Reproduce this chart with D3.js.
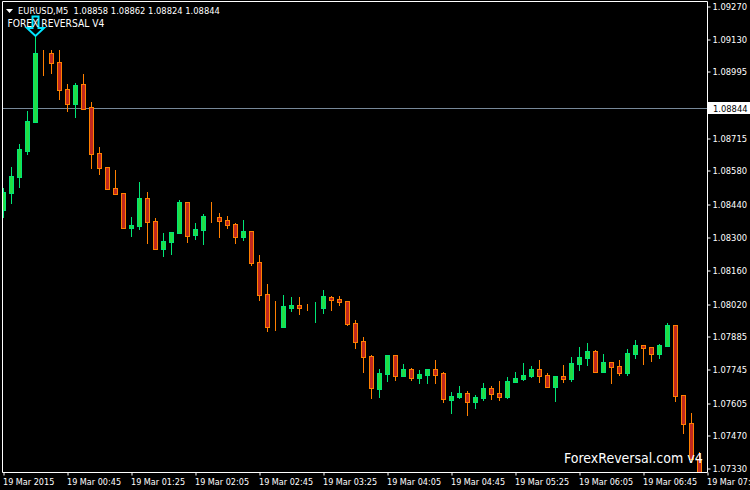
<!DOCTYPE html>
<html><head><meta charset="utf-8">
<style>html,body{margin:0;padding:0;background:#000}svg{display:block}text{font-family:"DejaVu Sans",sans-serif;font-stretch:condensed;font-size:9.3px;fill:#fff}</style>
<script src="https://cdnjs.cloudflare.com/ajax/libs/d3/7.8.5/d3.min.js"></script>
</head><body><svg id="c" width="750" height="490"></svg>
<script>
const opens=[1.08413,1.08485,1.08552,1.08661,1.08783,1.09073,1.09073,1.09035,1.08921,1.08858,1.08942,1.08846,1.08653,1.08594,1.08506,1.08485,1.08338,1.08346,1.08464,1.08367,1.08249,1.08279,1.08317,1.08447,1.08308,1.08329,1.08384,1.08384,1.08371,1.08354,1.08300,1.08325,1.08195,1.08060,1.07926,1.07922,1.08002,1.08014,1.08002,1.08002,1.08002,1.08048,1.08039,1.08031,1.07939,1.07863,1.07800,1.07661,1.07724,1.07804,1.07716,1.07745,1.07708,1.07720,1.07745,1.07729,1.07615,1.07628,1.07645,1.07607,1.07624,1.07666,1.07645,1.07628,1.07691,1.07703,1.07716,1.07745,1.07720,1.07670,1.07716,1.07703,1.07766,1.07792,1.07821,1.07733,1.07775,1.07758,1.07729,1.07808,1.07846,1.07838,1.07808,1.07842,1.07930,1.07636,1.07519,1.07367];
const highs=[1.08506,1.08594,1.08690,1.08829,1.09140,1.09085,1.09085,1.09085,1.08942,1.08947,1.08984,1.08867,1.08678,1.08594,1.08581,1.08485,1.08384,1.08531,1.08489,1.08380,1.08317,1.08321,1.08455,1.08447,1.08359,1.08396,1.08447,1.08401,1.08388,1.08359,1.08371,1.08325,1.08224,1.08102,1.08031,1.08056,1.08048,1.08048,1.08018,1.08027,1.08077,1.08052,1.08052,1.08031,1.07951,1.07880,1.07804,1.07745,1.07804,1.07804,1.07766,1.07750,1.07741,1.07745,1.07783,1.07733,1.07649,1.07674,1.07653,1.07636,1.07687,1.07674,1.07695,1.07712,1.07733,1.07771,1.07758,1.07783,1.07729,1.07716,1.07762,1.07796,1.07838,1.07855,1.07825,1.07808,1.07775,1.07783,1.07829,1.07867,1.07846,1.07838,1.07850,1.07939,1.07930,1.07636,1.07561,1.07397];
const lows=[1.08384,1.08443,1.08510,1.08648,1.08783,1.08980,1.08989,1.08879,1.08829,1.08804,1.08837,1.08590,1.08564,1.08501,1.08480,1.08338,1.08304,1.08333,1.08275,1.08249,1.08220,1.08228,1.08317,1.08279,1.08291,1.08270,1.08363,1.08300,1.08338,1.08275,1.08287,1.08182,1.08035,1.07905,1.07909,1.07922,1.07989,1.07976,1.07993,1.07943,1.07981,1.07993,1.08014,1.07930,1.07834,1.07733,1.07624,1.07628,1.07695,1.07699,1.07716,1.07699,1.07687,1.07687,1.07687,1.07607,1.07561,1.07624,1.07552,1.07582,1.07615,1.07619,1.07615,1.07624,1.07691,1.07699,1.07712,1.07691,1.07670,1.07611,1.07691,1.07695,1.07741,1.07762,1.07733,1.07733,1.07687,1.07720,1.07720,1.07792,1.07766,1.07779,1.07792,1.07842,1.07611,1.07477,1.07367,1.07288];
const closes=[1.08489,1.08556,1.08669,1.08787,1.09073,1.09072,1.09031,1.08917,1.08858,1.08938,1.08837,1.08648,1.08590,1.08501,1.08480,1.08338,1.08350,1.08464,1.08363,1.08249,1.08283,1.08321,1.08447,1.08304,1.08333,1.08388,1.08383,1.08367,1.08350,1.08300,1.08325,1.08191,1.08056,1.07922,1.07925,1.08010,1.08014,1.08002,1.08001,1.08002,1.08052,1.08035,1.08027,1.07934,1.07859,1.07796,1.07666,1.07729,1.07804,1.07716,1.07745,1.07708,1.07724,1.07745,1.07720,1.07619,1.07632,1.07645,1.07607,1.07628,1.07666,1.07640,1.07628,1.07695,1.07708,1.07720,1.07745,1.07716,1.07670,1.07716,1.07703,1.07771,1.07796,1.07821,1.07733,1.07775,1.07754,1.07729,1.07813,1.07846,1.07834,1.07808,1.07846,1.07930,1.07632,1.07514,1.07367,1.07296];
const priceTicks=[1.09270,1.09130,1.08995,1.08855,1.08715,1.08580,1.08440,1.08300,1.08160,1.08020,1.07885,1.07745,1.07605,1.07470,1.07330];
const timeLabels=["19 Mar 2015","19 Mar 00:45","19 Mar 01:25","19 Mar 02:05","19 Mar 02:45","19 Mar 03:25","19 Mar 04:05","19 Mar 04:45","19 Mar 05:25","19 Mar 06:05","19 Mar 06:45","19 Mar 07:25"];
const lastPrice=1.08844, arrowBar=4;
const header="EURUSD,M5  1.08858 1.08862 1.08824 1.08844";
const indicator="FOREX REVERSAL V4", brand="ForexReversal.com v4";

const W=750,H=490,L=2.5,R=707.5,T=1.5,B=472.5;
const UP="#22dd44",UPE="#00e676",DN="#c0281e",DNE="#ff8000";
const svg=d3.select("#c");
const y=d3.scaleLinear().domain([1.0733,1.0927]).range([468,6]);
const x=d3.scaleLinear().domain([0,87]).range([3,699]);
const py=v=>Math.round(y(v));
svg.append("rect").attr("width",W).attr("height",H).attr("fill","#000");
svg.append("defs").append("clipPath").attr("id","pl").append("rect").attr("x",3).attr("y",2).attr("width",704).attr("height",470);
const plot=svg.append("g").attr("clip-path","url(#pl)");
const lineY=Math.ceil(y(lastPrice));
plot.append("line").attr("x1",L).attr("x2",R).attr("y1",lineY+.5).attr("y2",lineY+.5).attr("stroke","#778899");
const idx=d3.range(opens.length);
const isUp=i=>closes[i]>=opens[i];
const g=plot.selectAll("g.c").data(idx).join("g").attr("class","c");
g.append("line").attr("x1",i=>x(i)+.5).attr("x2",i=>x(i)+.5).attr("y1",i=>py(highs[i])).attr("y2",i=>py(lows[i])+1).attr("stroke",i=>isUp(i)?UPE:DNE);
g.append("rect").attr("x",i=>x(i)-1.5).attr("width",4).attr("y",i=>py(Math.max(opens[i],closes[i]))+.5).attr("height",i=>Math.max(0,py(Math.min(opens[i],closes[i]))-py(Math.max(opens[i],closes[i])))).attr("fill",i=>isUp(i)?UP:DN).attr("stroke",i=>isUp(i)?UPE:DNE);
// reversal arrow, anchored to the signal bar's high
const ax=x(arrowBar)+.5, ay=py(highs[arrowBar]);
const arrow=d3.path();
[[-3,-20.5],[3,-20.5],[3,-9],[8.5,-9],[0,-1],[-8.5,-9],[-3,-9]].forEach((p,k)=>k?arrow.lineTo(ax+p[0],ay+p[1]):arrow.moveTo(ax+p[0],ay+p[1]));
arrow.closePath();
svg.append("path").attr("d",arrow).attr("fill","none").attr("stroke","#00e5ff").attr("stroke-width",2);
// frame
svg.append("path").attr("d",`M${L},${T}H${R}V${B}H${L}Z`).attr("fill","none").attr("stroke","#fff");
// price axis
const ay2=d3.axisRight(y).tickValues(priceTicks).tickSize(3).tickPadding(2).tickFormat(d3.format(".5f"));
const pa=svg.append("g").attr("transform",`translate(${R},0.5)`).call(ay2);
pa.select(".domain").remove();
pa.attr("font-size",null).attr("font-family",null);
pa.selectAll("line").attr("stroke","#fff").attr("transform",d=>`translate(0,${py(d)-y(d)})`);
pa.selectAll("text").attr("fill","#fff").attr("transform",d=>`translate(0,${py(d)-y(d)})`);
// last price tag
svg.append("rect").attr("x",708).attr("y",lineY-6).attr("width",42).attr("height",12).attr("fill","#fff");
svg.append("text").attr("x",713).attr("y",lineY+3.5).style("fill","#000").text(d3.format(".5f")(lastPrice));
// time axis
const t=d3.scalePoint().domain(timeLabels).range([x(0),x(0)+64*(timeLabels.length-1)]);
const ta=d3.axisBottom(t).tickSize(3).tickPadding(3);
const xa=svg.append("g").attr("transform",`translate(0.5,${B})`).call(ta);
xa.select(".domain").remove();
xa.attr("font-size",null).attr("font-family",null);
xa.selectAll("line").attr("stroke","#fff");
xa.selectAll("text").attr("text-anchor","start").attr("dx",-1).attr("fill","#fff").style("font-size","9px");
// titles
const tri=d3.path();tri.moveTo(6,9);tri.lineTo(13,9);tri.lineTo(9.5,13);tri.closePath();
svg.append("path").attr("d",tri).attr("fill","#fff");
svg.append("text").attr("x",18).attr("y",14).attr("xml:space","preserve").style("white-space","pre").text(header);
svg.append("text").attr("x",7.5).attr("y",27).style("font-size","10.2px").text(indicator);
svg.append("text").attr("x",564).attr("y",463).style("font-size","14px").text(brand);
</script></body></html>
